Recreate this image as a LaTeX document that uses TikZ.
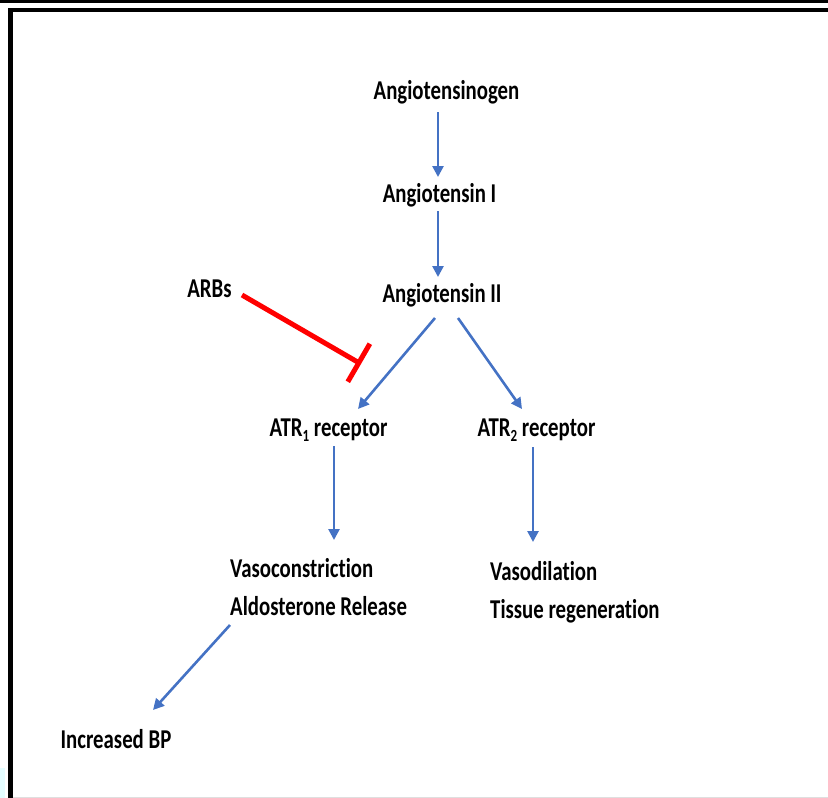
\documentclass[tikz,border=0pt]{standalone}
\usepackage{fontspec}
\setmainfont[FakeStretch=0.765,Ligatures={NoCommon},RawFeature={-liga}]{Carlito}
\usetikzlibrary{arrows.meta,calc}
\definecolor{arrblue}{HTML}{4472C4}
\definecolor{inhred}{HTML}{FF0000}
\definecolor{paleCyan}{HTML}{E4FDFF}
\newcommand\lowsub[1]{\raisebox{-5.5pt}{\fontsize{17}{17}\selectfont #1}}
\tikzset{
  lbl/.style={inner sep=0pt, font=\fontsize{27.2}{38}\selectfont\bfseries, text height=19pt, text depth=6.8pt},
  mlbl/.style={inner sep=0pt, font=\fontsize{27.2}{38}\selectfont\bfseries, align=left},
  arr/.style={draw=arrblue, line width=2.6pt, -{Triangle[length=11pt,width=11pt]}},
  inh/.style={draw=inhred, line width=5pt, -{Bar[width=44pt]}},
}
\begin{document}
\begin{tikzpicture}[x=1pt,y=-1pt]
\useasboundingbox (0,0) rectangle (828,798);
% frame
\fill[black] (0,0) rectangle (828,2.5);
\fill[paleCyan] (0,768) rectangle (5,798);
\draw[gray!25, line width=0.8pt] (12,797.4) -- (828,797.4);
\draw[black, line width=4.5pt] (10.5,798) -- (10.5,10) -- (828,10);
% nodes
\node[lbl, anchor=base] (ag) at (446.5,99) {Angiotensinogen};
\node[lbl, anchor=base] (a1) at (439.5,202) {Angiotensin I};
\node[lbl, anchor=base] (a2) at (442,302) {Angiotensin II};
\node[lbl, anchor=base] (arbs) at (209.5,297) {ARBs};
\node[lbl, anchor=base] (r1) at (328.5,436) {ATR\lowsub{1} receptor};
\node[lbl, anchor=base] (r2) at (536.5,436) {ATR\lowsub{2} receptor};
\node[mlbl, anchor=base west] (vc) at (230,615) {Vasoconstriction\\Aldosterone Release};
\node[mlbl, anchor=base west] (vd) at (490,618) {Vasodilation\\Tissue regeneration};
\node[lbl, anchor=base] (bp) at (116,748) {Increased BP};
% connectors
\draw[arr] ($(ag.base)+(-8.5,13)$) -- ($(a1.base)+(-1.5,-25)$);
\draw[arr] ($(a1.base)+(-1.5,9)$) -- ($(a2.base)+(-4,-25)$);
\draw[arr] ($(a2.base)+(-7,16)$) -- ($(r1.base)+(29.5,-27)$);
\draw[arr] ($(a2.base)+(16,16)$) -- ($(r2.base)+(-14.5,-27)$);
\draw[arr] ($(r1.base)+(5.5,10)$) -- ($(vc.base west)+(104,-75)$);
\draw[arr] ($(r2.base)+(-3.5,11)$) -- ($(vd.base west)+(43,-76)$);
\draw[arr] ($(vc.base west)+(0,10)$) -- ($(bp.base)+(37,-38)$);
\coordinate (blk) at ($(r1.base)+(32.5,-72)$);
\draw[inh] ($(arbs.base)+(32.5,-2)$) -- (blk);
\end{tikzpicture}
\end{document}
